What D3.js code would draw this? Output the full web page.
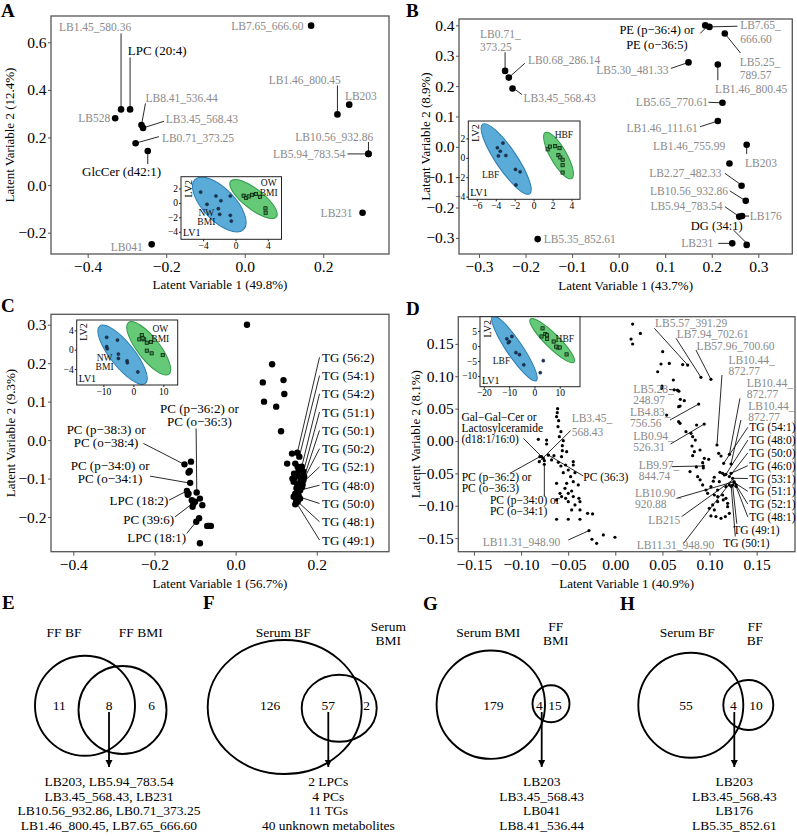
<!DOCTYPE html>
<html>
<head>
<meta charset="utf-8">
<script src="https://cdn.jsdelivr.net/npm/d3@7"></script>
<style>
  body { margin: 0; background: #fff; }
  text { font-family: 'Liberation Serif', 'Times New Roman', serif; }
</style>
</head>
<body>
<svg id="fig" width="797" height="837"></svg>
<script>
// ---------- panel A : FF, BMI ----------
const namesA = ["LB7.65_666.60","LB1.46_800.45","LB203","LB10.56_932.86","LB5.94_783.54","LB231","LB041",
                "LB528","LB1.45_580.36","LPC (20:4)","LB8.41_536.44","LB3.45_568.43","LB0.71_373.25","GlcCer (d42:1)"];
const lv1A = [0.169, 0.236, 0.266, 0.315, 0.315, 0.300, -0.237, -0.330, -0.315, -0.292, -0.263, -0.259, -0.278, -0.247];
const lv2A = [0.670, 0.297, 0.338, 0.131, 0.131, -0.116, -0.249, 0.281, 0.318, 0.318, 0.252, 0.240, 0.176, 0.143];

// ---------- panel B : FF, BF ----------
const namesB = ["LB7.65_666.60","PE (p−36:4) or|PE (o−36:5)","LB5.25_789.57","LB5.30_481.33","LB1.46_800.45","LB5.65_770.61",
                "LB1.46_111.61","LB203","LB1.46_755.99","LB2.27_482.33","LB10.56_932.86","LB5.94_783.54","LB176","DG (34:1)",
                "LB231","LB0.71_373.25","LB0.68_286.14","LB3.45_568.43","LB5.35_852.61"];
const lv1B = [0.195, 0.186, 0.228, 0.150, 0.213, 0.223, 0.213, 0.275, 0.238, 0.264, 0.273, 0.259, 0.265, 0.275, 0.244, -0.244, -0.236, -0.228, -0.174];
const lv2B = [0.395, 0.400, 0.373, 0.278, 0.271, 0.145, 0.085, 0.007, -0.055, -0.128, -0.178, -0.230, -0.228, -0.323, -0.318, 0.250, 0.228, 0.192, -0.304];

// ---------- panel C : serum, BMI ----------
const lipidsC = [[-0.126,-0.063],[-0.110,-0.056],[-0.116,-0.084],[-0.112,-0.111],[-0.120,-0.132],[-0.116,-0.139],[-0.096,-0.136],
  [-0.108,-0.156],[-0.100,-0.160],[-0.088,-0.152],[-0.082,-0.169],[-0.106,-0.173],[-0.097,-0.212],[-0.090,-0.203],[-0.070,-0.223],
  [-0.061,-0.223],[-0.066,-0.223],[-0.088,-0.268],[-0.113,-0.080],[-0.104,-0.165],[-0.118,-0.142]];
const unknownC = [[0.028,0.300],[0.090,0.197],[0.067,0.150],[0.118,0.156],[0.120,0.120],[0.070,0.100],[0.100,0.087],[0.112,0.023]];
const tgPointsC = [[0.139,-0.035],[0.152,-0.033],[0.157,-0.043],[0.127,-0.061],[0.147,-0.061],[0.153,-0.069],[0.161,-0.075],
  [0.144,-0.087],[0.151,-0.089],[0.157,-0.095],[0.145,-0.097],[0.163,-0.102],[0.143,-0.108],[0.151,-0.113],[0.157,-0.117],
  [0.164,-0.121],[0.147,-0.139],[0.155,-0.143],[0.143,-0.147],[0.159,-0.152],[0.149,-0.160],[0.147,-0.167],[0.140,-0.100],
  [0.150,-0.125],[0.160,-0.108],[0.155,-0.080],[0.145,-0.145],[0.165,-0.115],[0.163,-0.069],[0.167,-0.082],[0.169,-0.095],
  [0.167,-0.104],[0.163,-0.113],[0.159,-0.130],[0.155,-0.147],[0.153,-0.160]];
const tgNamesC = ["TG (56:2)","TG (54:1)","TG (54:2)","TG (51:1)","TG (50:1)","TG (50:2)","TG (52:1)","TG (48:0)","TG (50:0)","TG (48:1)","TG (49:1)"];
const tgTargetsC = [[0.152,-0.033],[0.157,-0.043],[0.163,-0.069],[0.167,-0.082],[0.169,-0.095],[0.167,-0.104],[0.163,-0.113],
  [0.159,-0.130],[0.155,-0.147],[0.153,-0.160],[0.151,-0.165]];

// ---------- panel D : serum, BF ----------
const leftD = [[-0.0612,0.0499],[-0.0616,0.0437],[-0.0623,0.0376],[-0.0601,0.0314],[-0.0608,0.0221],[-0.0577,0.0144],[-0.0594,0.0067],
  [-0.0552,0.0005],[-0.0562,-0.0072],[-0.0817,0.0026],[-0.0729,0.0015],[-0.0729,-0.0046],[-0.0782,-0.0242],[-0.0753,-0.0304],
  [-0.0711,-0.0216],[-0.0651,-0.0226],[-0.0676,-0.0293],[-0.0605,-0.0329],[-0.0570,-0.0242],[-0.0562,-0.0149],[-0.0516,-0.0165],
  [-0.0446,-0.0319],[-0.0527,-0.0371],[-0.0577,-0.0386],[-0.0499,-0.0448],[-0.0446,-0.0371],[-0.0552,-0.0489],[-0.0428,-0.0489],
  [-0.0474,-0.0551],[-0.0623,-0.0654],[-0.0516,-0.0654],[-0.0446,-0.0628],[-0.0393,-0.0679],[-0.0534,-0.0731],[-0.0587,-0.0808],
  [-0.0499,-0.0808],[-0.0463,-0.0772],[-0.0570,-0.0859],[-0.0527,-0.0885],[-0.0446,-0.0859],[-0.0386,-0.0885],[-0.0623,-0.0911],
  [-0.0499,-0.0937],[-0.0375,-0.0937],[-0.0428,-0.0988],[-0.0463,-0.1065],[-0.0375,-0.1065],[-0.0623,-0.1209],[-0.0499,-0.1209],
  [-0.0375,-0.1209],[-0.0294,-0.1117],[-0.0241,-0.1127],[-0.0279,-0.1384],[-0.0248,-0.1518],[-0.0198,-0.1580],[-0.0127,-0.1451],
  [-0.0004,-0.1487],[-0.0807,-0.0319],[-0.0764,-0.0268],[-0.0800,-0.0242],[-0.0753,-0.0360],[-0.0711,-0.0216]];
const rightD = [[0.0184,0.1806],[0.0266,0.1662],[0.0167,0.1575],[0.0184,0.1498],[0.0503,0.1379],[0.0485,0.1189],[0.0573,0.1199],
  [0.0450,0.1070],[0.0616,0.0942],[0.0715,0.1180],[0.0768,0.1173],[0.0909,0.0983],[0.1015,0.0952],[0.0496,0.0849],[0.0492,0.0813],
  [0.0690,0.0643],[0.0732,0.0623],[0.0687,0.0540],[0.0672,0.0530],[0.0885,0.0571],[0.0660,0.0785],[0.0625,0.0790],[0.0675,0.0770],
  [0.0545,0.0401],[0.0672,0.0299],[0.0687,0.0273],[0.0863,0.0247],[0.0944,0.0262],[0.0750,0.0144],[0.0803,0.0118],[0.0821,0.0067],
  [0.0849,0.0015],[0.0814,-0.0077],[0.0839,-0.0165],[0.0821,-0.0226],[0.0899,-0.0139],[0.0945,-0.0268],[0.0991,-0.0283],
  [0.0927,-0.0335],[0.0934,-0.0386],[0.0934,-0.0417],[0.0793,-0.0473],[0.0874,-0.0551],[0.0927,-0.0679],[0.0962,-0.0757],
  [0.1015,-0.0705],[0.0980,-0.0808],[0.1079,-0.0062],[0.1097,-0.0190],[0.1122,-0.0232],[0.1211,-0.0206],[0.1228,-0.0355],
  [0.1150,-0.0345],[0.1111,-0.0484],[0.1139,-0.0499],[0.1157,-0.0525],[0.1174,-0.0515],[0.1228,-0.0499],[0.1245,-0.0576],
  [0.1210,-0.0679],[0.1174,-0.0705],[0.1104,-0.0628],[0.1086,-0.0757],[0.1139,-0.0834],[0.1146,-0.0911],[0.1174,-0.0885],
  [0.1192,-0.0962],[0.1086,-0.0937],[0.1033,-0.0988],[0.0998,-0.1040],[0.1051,-0.1065],[0.1015,-0.1158],[0.1068,-0.1168],
  [0.1122,-0.1194],[0.1168,-0.1168],[0.1192,-0.1014],[0.1210,-0.1117],[0.1086,-0.0859],[0.1051,-0.0834],[0.1263,-0.0643],
  [0.1281,-0.0679],[0.1260,-0.0628],[0.1210,-0.0550],[0.0860,-0.0400],[0.0900,-0.0600],[0.1040,-0.0620],[0.1050,-0.0560],
  [0.1245,-0.0680],[0.1230,-0.0700],[0.1281,-0.0700]];
const tgNamesD = ["TG (54:1)","TG (48:0)","TG (50:0)","TG (46:0)","TG (53:1)","TG (51:1)","TG (52:1)","TG (48:1)","TG (49:1)","TG (50:1)"];
const tgTargetsD = [[0.1150,-0.0345],[0.1174,-0.0515],[0.1210,-0.0550],[0.1228,-0.0499],[0.1245,-0.0576],[0.1263,-0.0643],
  [0.1281,-0.0679],[0.1281,-0.0700],[0.1245,-0.0680],[0.1230,-0.0700]];

// ---------- inset score plots (LV1, LV2) ----------
const insetA_nw = [[-4.3,1.5],[-2.41,0.96],[-0.64,0.96],[-3.52,-0.19],[-1.8,0.3],[-2.12,-0.80],[-1.95,-1.58],[-0.64,-1.72],[-0.52,-2.51]];
const insetA_ow = [[1.0,1.0],[1.3,0.7],[1.63,0.9],[2.04,1.12],[2.53,1.23],[3.02,0.85],[3.7,-0.75],[3.72,-1.36]];
const insetB_lbf = [[-3.83,1.04],[-3.24,1.52],[-3.52,0.68],[-3.72,0.2],[-2.93,0.24],[-1.91,-1.2],[-1.43,-1.44],[-1.87,-2.8]];
const insetB_hbf = [[1.48,0.88],[1.72,1.16],[2.27,1.2],[2.74,1.0],[2.62,0.28],[2.82,0.04],[3.06,-0.2],[3.06,-0.76],[3.06,-1.52]];
const insetC_nw = [[-8.9,2.57],[-5.3,2.0],[-8.9,0.62],[-8.7,0.2],[-5.0,-0.9],[-5.0,-1.8],[-2.1,-2.3],[-2.0,-2.7],[1.5,-4.6]];
const insetC_ow = [[2.8,3.04],[2.0,2.15],[3.6,2.15],[3.1,2.36],[4.5,1.45],[5.9,1.6],[4.5,-0.2],[6.1,-0.75],[9.8,-1.1]];
const insetD_lbf = [[-10.9,2.4],[-9.9,1.5],[-8.9,3.2],[-10.3,1.1],[-7.3,-2.2],[-5.9,-2.9],[-4.2,-6.3],[2.3,-8.9],[3.5,-4.9]];
const insetD_hbf = [[3.2,5.9],[4.3,4.0],[2.8,3.2],[5.0,3.6],[5.0,2.4],[7.6,1.5],[9.3,-0.5],[10.0,-0.5],[12.7,-2.8],[8.6,-0.2]];

// ---------- Venn diagrams ----------
const vennSets = [["FF BF","FF BMI"],["Serum BF","Serum|BMI"],["Serum BMI","FF|BMI"],["Serum BF","FF|BF"]];
const vennCounts = [[11,8,6],[126,57,2],[179,4,15],[55,4,10]];
const vennShared = [
  ["LB203, LB5.94_783.54","LB3.45_568.43, LB231","LB10.56_932.86, LB0.71_373.25","LB1.46_800.45, LB7.65_666.60"],
  ["2 LPCs","4 PCs","11 TGs","40 unknown metabolites"],
  ["LB203","LB3.45_568.43","LB041","LB8.41_536.44"],
  ["LB203","LB3.45_568.43","LB176","LB5.35_852.61"]];

// =====================================================================
const svg = d3.select("#fig");
const FRAME = "#555";
const GRAY = "#8a8a8a";
const BLUE_F = "#5aabd8", BLUE_S = "#2c7db3", GREEN_F = "#66c978", GREEN_S = "#2f9a48";

svg.append("defs").append("marker")
  .attr("id", "arrow").attr("viewBox", "0 0 10 10").attr("refX", 10).attr("refY", 5)
  .attr("markerWidth", 7).attr("markerHeight", 9).attr("markerUnits", "userSpaceOnUse").attr("orient", "auto")
  .append("path").attr("d", "M0,0 L10,5 L0,10 z").attr("fill", "#000");

function scatter(c) {
  const [x0, y0, x1, y1] = c.box;
  const x = d3.scaleLinear().domain(c.xd).range([x0, x1]);
  const y = d3.scaleLinear().domain(c.yd).range([y1, y0]);
  const g = svg.append("g");
  const ax = g.append("g").attr("transform", `translate(0,${y1})`)
    .call(d3.axisBottom(x).tickValues(c.xt).tickFormat(d3.format(c.fmt)).tickSize(4).tickPadding(3));
  const ay = g.append("g").attr("transform", `translate(${x0},0)`)
    .call(d3.axisLeft(y).tickValues(c.yt).tickFormat(d3.format(c.fmt)).tickSize(3).tickPadding(1.5));
  [ax, ay].forEach(a => {
    a.select(".domain").remove();
    a.selectAll("line").attr("stroke", FRAME);
    a.selectAll("text").attr("font-family", "'Liberation Serif',serif").attr("font-size", 15.5).attr("fill", "#000");
  });
  g.append("rect").attr("x", x0).attr("y", y0).attr("width", x1 - x0).attr("height", y1 - y0)
    .attr("fill", "none").attr("stroke", FRAME).attr("stroke-width", 1.3);
  g.append("text").attr("x", (x0 + x1) / 2).attr("y", c.xTitleY).attr("dy", "0.35em")
    .attr("text-anchor", "middle").attr("font-size", 13).text(c.xTitle);
  g.append("text").attr("transform", `translate(${c.yTitleX},${(y0 + y1) / 2}) rotate(-90)`).attr("dy", "0.35em")
    .attr("text-anchor", "middle").attr("font-size", 13).text(c.yTitle);
  g.append("text").attr("x", c.letter[0]).attr("y", c.letter[1]).attr("font-size", 19)
    .attr("font-weight", "bold").text(c.letter[2]);
  return { g, x, y };
}

function label(g, o) {
  const t = g.append("text").attr("text-anchor", o.anchor || "start")
    .attr("font-size", o.size).attr("fill", o.color);
  o.text.forEach((s, k) => t.append("tspan").attr("x", o.tx).attr("y", o.ty + k * (o.lh || 12))
    .attr("dy", "0.35em").text(s));
}
function leader(g, x1, y1, x2, y2) {
  g.append("line").attr("x1", x1).attr("y1", y1).attr("x2", x2).attr("y2", y2)
    .attr("stroke", "#111").attr("stroke-width", 0.9);
}
function dots(g, pts, r) {
  g.append("g").selectAll("circle").data(pts).join("circle")
    .attr("cx", d => d[0]).attr("cy", d => d[1]).attr("r", r).attr("fill", "#000");
}

function inset(g, c) {
  const [x0, y0, x1, y1] = c.box;
  const x = d3.scaleLinear().domain(c.xd).range([x0, x1]);
  const y = d3.scaleLinear().domain(c.yd).range([y1, y0]);
  const ig = g.append("g");
  ig.append("rect").attr("x", x0).attr("y", y0).attr("width", x1 - x0).attr("height", y1 - y0).attr("fill", "#fff");
  const id = "clip" + c.id;
  ig.append("clipPath").attr("id", id).append("rect").attr("x", x0).attr("y", y0).attr("width", x1 - x0).attr("height", y1 - y0);
  const inner = ig.append("g").attr("clip-path", `url(#${id})`);
  c.ell.forEach(e => {
    const cx = x(e.c[0]), cy = y(e.c[1]);
    inner.append("ellipse").attr("cx", cx).attr("cy", cy).attr("rx", e.a).attr("ry", e.b)
      .attr("transform", `rotate(${e.ang},${cx},${cy})`)
      .attr("fill", e.blue ? BLUE_F : GREEN_F).attr("stroke", e.blue ? BLUE_S : GREEN_S).attr("stroke-width", 1);
  });
  inner.selectAll(".b").data(c.low).join("circle").attr("cx", d => x(d[0])).attr("cy", d => y(d[1]))
    .attr("r", 1.6).attr("fill", "#1b3552").attr("stroke", "#0c1a2a").attr("stroke-width", 0.4);
  inner.selectAll(".s").data(c.high).join("rect").attr("x", d => x(d[0]) - 1.6).attr("y", d => y(d[1]) - 1.6)
    .attr("width", 3.2).attr("height", 3.2).attr("fill", "#3f9e52").attr("stroke", "#112211").attr("stroke-width", 0.8);
  ig.append("rect").attr("x", x0).attr("y", y0).attr("width", x1 - x0).attr("height", y1 - y0)
    .attr("fill", "none").attr("stroke", "#222").attr("stroke-width", 1);
  const ax = ig.append("g").attr("transform", `translate(0,${y1})`)
    .call(d3.axisBottom(x).tickValues(c.xt).tickFormat(d3.format("d")).tickSize(2).tickPadding(1));
  const ay = ig.append("g").attr("transform", `translate(${x0},0)`)
    .call(d3.axisLeft(y).tickValues(c.yt).tickFormat(d3.format("d")).tickSize(2).tickPadding(1));
  [ax, ay].forEach(a => {
    a.select(".domain").remove();
    a.selectAll("line").attr("stroke", "#222");
    a.selectAll("text").attr("font-family", "'Liberation Serif',serif").attr("font-size", 9.5).attr("fill", "#000");
  });
  ig.append("text").attr("transform", `translate(${x0 + 7},${y0 + 12}) rotate(-90)`).attr("dy", "0.35em")
    .attr("text-anchor", "middle").attr("font-size", 10).text("LV2");
  ig.append("text").attr("x", x0 + 2).attr("y", y1 - 3).attr("font-size", 10).text("LV1");
  c.groups.forEach(gr => {
    const t = ig.append("text").attr("text-anchor", "middle").attr("font-size", 9.5).attr("fill", "#111");
    gr.text.forEach((s, k) => t.append("tspan").attr("x", x(gr.at[0])).attr("y", y(gr.at[1]) + k * 9.5)
      .attr("dy", "0.35em").text(s));
  });
}

// ---------------- Panel A ----------------
{
  const layoutA = [
    [-7.7, 0, "end", null], [3.4, -34.3, "end", [0, -29, 0, 0]], [-4.3, -8.7, "start", null],
    [4.7, -17.3, "end", [0, -12, 0, 0]], [-23.3, 0, "end", [-21, 0, 0, 0]], [-10, 0, "end", null],
    [-9, 2.4, "end", null], [-5, 0, "end", null], [-26, -82.6, "middle", [0, -76, 0, 0]],
    [-2.3, -59.3, "start", [0, -52, 0, 0]], [4, -27.3, "start", [4, -21.7, 0, 0]], [22.7, -9, "start", [21, -6.7, 0, 0]],
    [26.3, -5.3, "start", [23.3, -6.6, 0, 0]], [-26.2, 20, "middle", [0, 3, 0, 13]]];
  const { g, x, y } = scatter({
    box: [51, 16, 389, 254], xd: [-0.4934, 0.3673], yd: [-0.2895, 0.7105],
    xt: [-0.4, -0.2, 0, 0.2], yt: [-0.2, 0, 0.2, 0.4, 0.6], fmt: ".1f",
    xTitle: "Latent Variable 1 (49.8%)", yTitle: "Latent Variable 2 (12.4%)", xTitleY: 284, yTitleX: 9,
    letter: [1, 17, "A"]
  });
  const pts = lv1A.map((v, i) => [x(v), y(lv2A[i])]);
  layoutA.forEach((l, i) => { if (l[3]) leader(g, pts[i][0] + l[3][0], pts[i][1] + l[3][1], pts[i][0] + l[3][2], pts[i][1] + l[3][3]); });
  dots(g, pts, 3.3);
  layoutA.forEach((l, i) => {
    const black = !namesA[i].startsWith("LB");
    label(g, { text: [namesA[i]], tx: pts[i][0] + l[0], ty: pts[i][1] + l[1], anchor: l[2],
      size: black ? 13 : 11.5, color: black ? "#000" : GRAY });
  });
  inset(g, {
    id: "A", box: [181, 176.7, 281.5, 239.3], xd: [-6.73, 5.68], yd: [-5.04, 3.63], xt: [-4, 0, 4], yt: [-4, -2, 0, 2],
    ell: [{ c: [-2.0, -0.22], a: 34.8, b: 16, ang: 46, blue: true }, { c: [2.22, 0.54], a: 29, b: 10, ang: 38 }],
    low: insetA_nw, high: insetA_ow,
    groups: [{ text: ["OW", "BMI"], at: [4.1, 2.8] }, { text: ["NW", "BMI"], at: [-3.6, -1.3] }]
  });
}

// ---------------- Panel B ----------------
{
  const layoutB = [
    [30.7, -1.7, "start", [0, 0, 28, -0.7], 14], [-48.3, 4.7, "middle", [-5, 8, 0, 3], 15], [15, 28.4, "start", [0, 0, 15.7, 19.4], 13],
    [-20, 7.7, "end", [-17.6, 6, 0, 0]], [-2.7, 24, "start", [0, 0, 0, 15.7]], [-14.4, -1, "end", [-14, -0.5, 0, 0]],
    [-20, 7.3, "end", [-17.7, 5.7, 0, 0]], [-1.7, 18.6, "start", [0, 0, 0, 9.3]], [-4.3, -17.3, "end", null],
    [-20, -12.4, "end", [-16.7, -12.4, -1.7, -1.7]], [-17.7, -10, "end", [-16, -10, 0, 0]], [-16.6, -11, "end", [-14.3, -10, 0, 0]],
    [7.7, 0, "start", [1, 0, 7, 0]], [-30, -19, "middle", [-13.4, -15, 0, -1.7]], [-19, 0, "end", [-14, 0, -2, 0]],
    [-25, -37.4, "start", [0, -18.7, 0, 0], 13.4], [19.3, -17.3, "start", [16, -14.3, 0, 0]], [11, 9, "start", [9.4, 6, 2.7, 1]],
    [6, 0, "start", null]];
  const splitB = ["LB7.65_|666.60", null, "LB5.25_|789.57", null, null, null, null, null, null, null, null, null, null, null, null,
    "LB0.71_|373.25", null, null, null];
  const { g, x, y } = scatter({
    box: [459, 19, 792.3, 254], xd: [-0.343, 0.373], yd: [-0.353, 0.421],
    xt: [-0.3, -0.2, -0.1, 0, 0.1, 0.2, 0.3], yt: [-0.3, -0.2, -0.1, 0, 0.1, 0.2, 0.3, 0.4], fmt: ".1f",
    xTitle: "Latent Variable 1 (43.7%)", yTitle: "Latent Variable 2 (8.9%)", xTitleY: 285, yTitleX: 425,
    letter: [406, 17, "B"]
  });
  const pts = lv1B.map((v, i) => [x(v), y(lv2B[i])]);
  layoutB.forEach((l, i) => { if (l[3]) leader(g, pts[i][0] + l[3][0], pts[i][1] + l[3][1], pts[i][0] + l[3][2], pts[i][1] + l[3][3]); });
  dots(g, pts, 3.3);
  layoutB.forEach((l, i) => {
    const black = !namesB[i].startsWith("LB");
    const txt = (splitB[i] || namesB[i]).split("|");
    label(g, { text: txt, tx: pts[i][0] + l[0], ty: pts[i][1] + l[1], anchor: l[2], lh: l[4] || 13,
      size: black ? 12.5 : 11.5, color: black ? "#000" : GRAY });
  });
  inset(g, {
    id: "B", box: [468.3, 121, 580, 199.3], xd: [-6.9, 4.9], yd: [-4.28, 3.8], xt: [-6, -4, -2, 0, 2, 4], yt: [-4, -2, 0, 2],
    ell: [{ c: [-2.9, -0.12], a: 42, b: 10.5, ang: 56, blue: true }, { c: [2.63, 0.24], a: 26.5, b: 8, ang: 60 }],
    low: insetB_lbf, high: insetB_hbf,
    groups: [{ text: ["HBF"], at: [3.2, 2.43] }, { text: ["LBF"], at: [-4.54, -1.69] }]
  });
}

// ---------------- Panel C ----------------
{
  const { g, x, y } = scatter({
    box: [51, 314.3, 389, 551.7], xd: [-0.455, 0.378], yd: [-0.290, 0.327],
    xt: [-0.4, -0.2, 0, 0.2], yt: [-0.2, -0.1, 0, 0.1, 0.2, 0.3], fmt: ".1f",
    xTitle: "Latent Variable 1 (56.7%)", yTitle: "Latent Variable 2 (9.3%)", xTitleY: 583, yTitleX: 10,
    letter: [1, 312, "C"]
  });
  const labC = [
    { text: ["PC (p−36:2) or", "PC (o−36:3)"], t: [-0.0892, 0.0824], anchor: "middle", line: [-0.0974, 0.0304, -0.0957, -0.1359] },
    { text: ["PC (p−38:3) or", "PC (o−38:4)"], t: [-0.3193, 0.0286], anchor: "middle", line: [-0.2273, -0.0086, -0.1262, -0.0632] },
    { text: ["PC (p−34:0) or", "PC (o−34:1)"], t: [-0.3094, -0.065], anchor: "middle", line: [-0.2108, -0.0936, -0.1164, -0.111] },
    { text: ["LPC (18:2)"], t: [-0.1657, -0.1577], anchor: "end", line: [-0.164, -0.156, -0.120, -0.132] },
    { text: ["PC (39:6)"], t: [-0.1516, -0.2061], anchor: "end", line: [-0.1492, -0.1993, -0.100, -0.160] },
    { text: ["LPC (18:1)"], t: [-0.122, -0.2529], anchor: "end", line: [-0.1203, -0.2425, -0.0974, -0.2123] }];
  labC.forEach(l => leader(g, x(l.line[0]), y(l.line[1]), x(l.line[2]), y(l.line[3])));
  tgTargetsC.forEach((d, i) => leader(g, 319.5, 357.3 + i * 18.27, x(d[0]), y(d[1])));
  dots(g, lipidsC.concat(unknownC, tgPointsC).map(d => [x(d[0]), y(d[1])]), 3.2);
  labC.forEach(l => label(g, { text: l.text, tx: x(l.t[0]), ty: y(l.t[1]), anchor: l.anchor, lh: 13.4, size: 13, color: "#000" }));
  tgNamesC.forEach((n, i) => label(g, { text: [n], tx: 322, ty: 357.3 + i * 18.27, size: 13, color: "#000" }));
  inset(g, {
    id: "C", box: [76.7, 320, 177.7, 385], xd: [-18.9, 14.8], yd: [-7.3, 6.15], xt: [-10, 0, 10], yt: [-4, 0, 4],
    ell: [{ c: [-3.6, -1.04], a: 36.7, b: 12, ang: 51.5, blue: true }, { c: [5.13, 0.29], a: 32.8, b: 11, ang: 52 }],
    low: insetC_nw, high: insetC_ow,
    groups: [{ text: ["OW", "BMI"], at: [9.0, 4.3] }, { text: ["NW", "BMI"], at: [-9.6, -1.6] }]
  });
}

// ---------------- Panel D ----------------
{
  const { g, x, y } = scatter({
    box: [458.3, 316.7, 795, 551.7], xd: [-0.1666, 0.1907], yd: [-0.171, 0.192],
    xt: [-0.15, -0.1, -0.05, 0, 0.05, 0.1, 0.15], yt: [-0.15, -0.1, -0.05, 0, 0.05, 0.1, 0.15], fmt: ".2f",
    xTitle: "Latent Variable 1 (40.9%)", yTitle: "Latent Variable 2 (8.1%)", xTitleY: 583, yTitleX: 415,
    letter: [406, 315, "D"]
  });
  const labD = [
    { text: ["LB5.57_391.29"], t: [0.0421, 0.1817], line: [0.0415, 0.174, 0.0768, 0.1173] },
    { text: ["LB7.94_702.61"], t: [0.0651, 0.1647], line: [0.0645, 0.1585, 0.0909, 0.0983] },
    { text: ["LB57.96_700.60"], t: [0.0863, 0.1471], line: [0.0856, 0.1405, 0.1015, 0.0952] },
    { text: ["LB10.44_", "872.77"], t: [0.12, 0.1251], line: [0.1132, 0.1019, 0.1079, -0.0062] },
    { text: ["LB10.44_", "872.77"], t: [0.1394, 0.0891], line: [0.1323, 0.0659, 0.1211, -0.0206] },
    { text: ["LB10.44_", "872.77"], t: [0.1411, 0.0545], line: [0.1333, 0.0324, 0.1228, -0.0355] },
    { text: ["LB5.28_", "248.97"], t: [0.0191, 0.0803], line: [0.057, 0.0795, 0.066, 0.0785] },
    { text: ["LB4.83_", "756.56"], t: [0.0156, 0.0448], line: [0.058, 0.0324, 0.0885, 0.0571] },
    { text: ["LB0.94_", "526.31"], t: [0.0191, 0.0077], line: [0.0587, -0.0046, 0.0944, 0.0262] },
    { text: ["LB9.97_", "844.74"], t: [0.0248, -0.0371], line: [0.0598, -0.0396, 0.0934, -0.0386] },
    { text: ["LB10.90_", "920.88"], t: [0.0209, -0.0803], line: [0.0651, -0.0885, 0.126, -0.0628] },
    { text: ["LB215"], t: [0.035, -0.122], line: [0.0704, -0.1168, 0.1245, -0.0602] },
    { text: ["LB11.31_948.90"], t: [0.0227, -0.1606], line: [0.0725, -0.158, 0.1228, -0.0628] },
    { text: ["LB11.31_948.90"], t: [-0.1407, -0.1564], line: [-0.0499, -0.1529, -0.0279, -0.1384] },
    { text: ["LB3.45_", "568.43"], t: [-0.0463, 0.0355], line: [-0.0474, 0.016, -0.0807, -0.0319], lh: 14 },
    { text: ["Gal−Gal−Cer or", "Lactosylceramide", "(d18:1/16:0)"], t: [-0.1633, 0.0375], line: [-0.0976, 0.0041, -0.0764, -0.0268], black: true },
    { text: ["PC (p−36:2) or", "PC (o−36:3)"], t: [-0.163, -0.0551], line: [-0.1118, -0.0499, -0.08, -0.0242], black: true },
    { text: ["PC (p−34:0) or", "PC (o−34:1)"], t: [-0.133, -0.0911], line: [-0.0753, -0.0859, -0.0753, -0.036], black: true },
    { text: ["PC (36:3)"], t: [-0.034, -0.056], line: [-0.034, -0.054, -0.0711, -0.0216], black: true }];
  const tgX = [749.3, 749.3, 749.3, 749.3, 749.3, 749.3, 749.3, 749.3, 733.3, 723.3];
  labD.forEach(l => leader(g, x(l.line[0]), y(l.line[1]), x(l.line[2]), y(l.line[3])));
  tgTargetsD.forEach((d, i) => {
    const ty = 427.3 + i * 12.8;
    if (i < 8) leader(g, tgX[i] - 1.5, ty, x(d[0]), y(d[1]));
    else leader(g, tgX[i] + (i === 8 ? 3.5 : 12), ty - 6, x(d[0]), y(d[1]));
  });
  dots(g, leftD.concat(rightD).map(d => [x(d[0]), y(d[1])]), 1.6);
  labD.forEach(l => label(g, { text: l.text, tx: x(l.t[0]), ty: y(l.t[1]), lh: l.lh || 11, size: 11.5,
    color: l.black ? "#000" : GRAY }));
  tgNamesD.forEach((n, i) => label(g, { text: [n], tx: tgX[i], ty: 427.3 + i * 12.8, size: 11.5, color: "#000" }));
  inset(g, {
    id: "D", box: [480, 316.7, 580, 386.7], xd: [-21.5, 18], yd: [-13.6, 9.8], xt: [-20, -10, 0, 10], yt: [-10, -5, 0, 5],
    ell: [{ c: [-7.9, -0.8], a: 39, b: 8, ang: 56, blue: true }, { c: [7, 1.8], a: 30.7, b: 7, ang: 44.7 }],
    low: insetD_lbf, high: insetD_hbf,
    groups: [{ text: ["HBF"], at: [12, 2.5] }, { text: ["LBF"], at: [-13, -5] }]
  });
}

// ---------------- Venn panels E-H ----------------
// circles: [cx, cy, rx, ry]  (panel F is slightly stretched horizontally in the original)
const vennLayout = [
  { letter: [2, 609, "E"], c1: [85, 705.8, 50, 50], c2: [122.5, 710, 44, 44], setPos: [[64, 632.7], [140.8, 632.7]], num: [59.3, 109, 151.7], ax: 109 },
  { letter: [203, 609, "F"], c1: [284.7, 707, 77, 67], c2: [339.2, 708.3, 37.5, 33.5], setPos: [[283.3, 632.7], [388.3, 626.7]], num: [270, 328.3, 366.7], ax: 328.3 },
  { letter: [423, 610, "G"], c1: [490.8, 704.7, 54.2, 54.2], c2: [551, 703.8, 18.5, 18.5], setPos: [[488.3, 632.7], [555.7, 626.7]], num: [493.3, 539.3, 555], ax: 541.7 },
  { letter: [620, 610, "H"], c1: [690.8, 705.3, 52.5, 52.5], c2: [748.3, 705, 25, 25], setPos: [[687.3, 632.7], [755, 626.7]], num: [686, 733.3, 756], ax: 734.3 }];
vennLayout.forEach((L, p) => {
  const g = svg.append("g");
  g.append("text").attr("x", L.letter[0]).attr("y", L.letter[1]).attr("font-size", 19).attr("font-weight", "bold").text(L.letter[2]);
  [L.c1, L.c2].forEach(c => g.append("ellipse").attr("cx", c[0]).attr("cy", c[1]).attr("rx", c[2]).attr("ry", c[3])
    .attr("fill", "none").attr("stroke", "#000").attr("stroke-width", 1.9));
  vennSets[p].forEach((s, k) => label(g, { text: s.split("|"), tx: L.setPos[k][0], ty: L.setPos[k][1], anchor: "middle",
    lh: 13.4, size: 13.5, color: "#000" }));
  vennCounts[p].forEach((n, k) => label(g, { text: [String(n)], tx: L.num[k], ty: 705, anchor: "middle", size: 13.5, color: "#000" }));
  g.append("line").attr("x1", L.ax).attr("y1", 712).attr("x2", L.ax).attr("y2", 767)
    .attr("stroke", "#000").attr("stroke-width", 1.8).attr("marker-end", "url(#arrow)");
  label(g, { text: vennShared[p], tx: L.ax, ty: 781.7, anchor: "middle", lh: 14.4, size: 13.5, color: "#000" });
});
</script>
</body>
</html>
